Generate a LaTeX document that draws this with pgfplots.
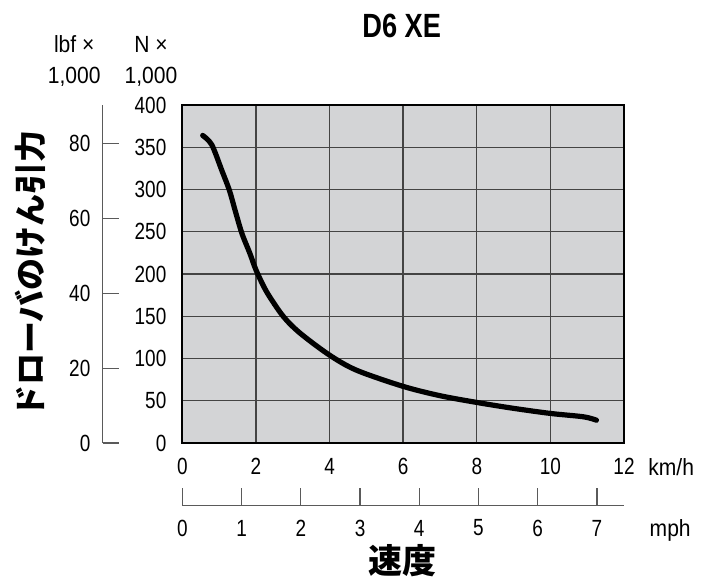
\documentclass[border=0pt]{standalone}
\usepackage{fontspec}
\setmainfont{Liberation Sans}[FakeStretch=0.81]
\newfontfamily\unitfont{Liberation Sans}[FakeStretch=0.9]
\newfontfamily\cjk{Noto Sans CJK JP}
\usepackage{pgfplots}
\pgfplotsset{compat=1.18}
\definecolor{plotbg}{HTML}{D3D4D6}
\definecolor{gridcol}{HTML}{444444}
\definecolor{axiscol}{HTML}{5A5A5A}
\newcommand{\tickfont}{\fontsize{11.7}{14}\selectfont}

\begin{document}
\begin{tikzpicture}
\useasboundingbox (-91.15pt,-67pt) rectangle (266.35pt,221.5pt);

% drawbar pull (kN) against speed (km/h)
\begin{axis}[
  name=main, at={(0pt,0pt)}, anchor=south west,
  scale only axis, width=220.85pt, height=169pt,
  xmin=0, xmax=12, ymin=0, ymax=400,
  xtick={0,2,...,12}, ytick={0,50,...,400},
  major tick length=0pt,
  grid=major, major grid style={gridcol, line width=0.7pt},
  axis background/.style={fill=plotbg},
  axis line style={black, line width=0.9pt},
  /pgf/number format/assume math mode=true,
  /pgf/number format/set thousands separator={},
  tick label style={font=\tickfont, inner sep=0pt},
  xticklabel style={anchor=center, yshift=-11.85pt},
  yticklabel style={anchor=east, xshift=-7.8pt},
  xlabel={km/h},
  xlabel style={at={(rel axis cs:1,0)}, anchor=base west, inner sep=0pt,
    xshift=12pt, yshift=-16.05pt, font=\unitfont\tickfont},
]
\addplot[black, line width=2.6pt, smooth, line cap=round] coordinates {
  (0.554,364) (0.80,353) (1.07,323) (1.28,299) (1.43,276) (1.62,248)
  (1.84,224) (2.0,205) (2.29,179) (2.74,150) (3.2,130) (4.0,104)
  (4.74,86) (6.0,67) (7.0,56) (8.0,48) (9.0,41) (10.0,35) (10.9,31) (11.25,27)
};
\end{axis}

% lbf x 1,000 scale
\begin{axis}[
  at={(-39.8pt,0pt)}, anchor=south west,
  scale only axis, width=10pt, height=169pt,
  xmin=0, xmax=1, ymin=0, ymax=90.4,
  axis x line=none, axis y line=left,
  axis line style={-, axiscol, line width=0.6pt},
  ytick={0,20,...,80}, tick align=inside, major tick length=8.3pt,
  tick style={axiscol, line width=0.6pt},
  /pgf/number format/assume math mode=true,
  yticklabel style={font=\tickfont, inner sep=0pt, anchor=east, xshift=-6pt},
]
\end{axis}

% mph scale
\begin{axis}[
  at={(0pt,-31.15pt)}, anchor=south west,
  scale only axis, width=220.85pt, height=10pt,
  xmin=0, xmax=7.456, ymin=0, ymax=1,
  axis y line=none, axis x line=bottom,
  axis line style={-, axiscol, line width=0.6pt},
  xtick={0,...,7}, tick align=inside, major tick length=8.5pt,
  tick style={axiscol, line width=0.6pt},
  /pgf/number format/assume math mode=true,
  xticklabel style={font=\tickfont, inner sep=0pt, anchor=center, yshift=-11.35pt},
  xlabel={mph},
  xlabel style={at={(rel axis cs:1,0)}, anchor=base west, inner sep=0pt,
    xshift=12.65pt, yshift=-15.55pt, font=\unitfont\tickfont},
]
\end{axis}

\node[anchor=base, inner sep=0pt, font=\fontsize{16.8}{20}\selectfont\bfseries]
  at (109.7pt,202.85pt) {D6 XE};
\node[anchor=base, inner sep=0pt, font=\unitfont\tickfont] at (-54.05pt,195pt) {lbf ×};
\node[anchor=base, inner sep=0pt, font=\unitfont\tickfont] at (-54.05pt,179.85pt) {1,000};
\node[anchor=base, inner sep=0pt, font=\unitfont\tickfont] at (-15.65pt,195pt) {N ×};
\node[anchor=base, inner sep=0pt, font=\unitfont\tickfont] at (-15.65pt,179.85pt) {1,000};
\node[rotate=90, inner sep=0pt, font=\cjk\bfseries\fontsize{16}{16}\selectfont]
  at (-75.75pt,84.5pt) {ドローバのけん引力};
\node[inner sep=0pt, font=\cjk\bfseries\fontsize{17}{17}\selectfont]
  at (110.1pt,-59pt) {速度};
\end{tikzpicture}
\end{document}
